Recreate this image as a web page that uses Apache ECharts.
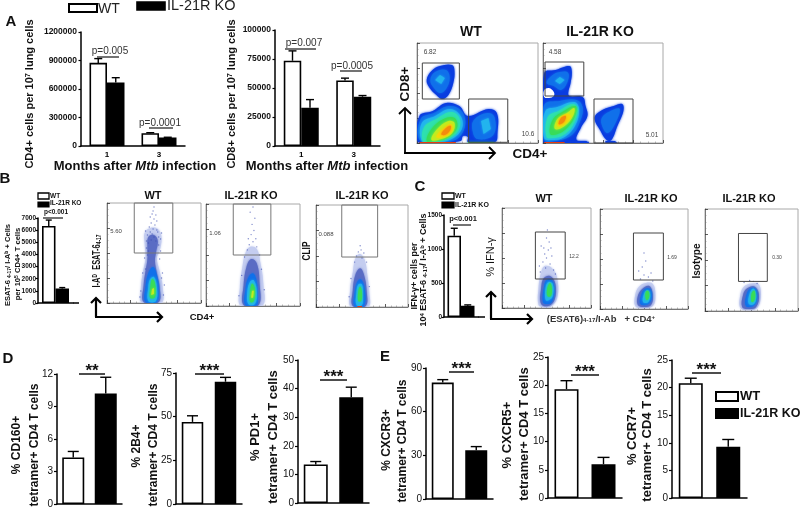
<!DOCTYPE html>
<html><head><meta charset="utf-8">
<script src="https://cdn.jsdelivr.net/npm/echarts@6/dist/echarts.min.js"></script>
<style>html,body{margin:0;padding:0;background:#fff}#c{width:800px;height:510px;filter:blur(0.35px)}</style>
</head><body><div id="c"></div>
<script>
// ---------- bar data ----------
const monthCats=['1','3'];
const a1Ticks=[0,300000,600000,900000,1200000];
const a1WT=[875000,135000], a1KO=[668000,90000], a1WTErr=[920000,140000], a1KOErr=[719000,92000];
const a2Ticks=[0,25000,50000,75000,100000];
const a2WT=[73500,56500], a2KO=[33000,42500], a2WTErr=[82000,58500], a2KOErr=[40000,43500];
const bTicks=[0,1000,2000,3000,4000,5000,6000,7000];
const bWT=[6350], bKO=[1200], bWTErr=[6830], bKOErr=[1270];
const cTicks=[0,500,1000,1500];
const cWT=[1195], cKO=[166], cWTErr=[1305], cKOErr=[178];
const groupCats=['WT','IL-21R KO'];
const cd160Ticks=[0,3,6,9,12], cd160=[4.3,10.2], cd160Err=[4.85,11.7];
const b2b4Ticks=[0,25,50,75], b2b4=[47,70], b2b4Err=[50.5,72.5];
const pd1Ticks=[0,10,20,30,40,50], pd1=[13.5,37], pd1Err=[14.5,40.5];
const cxcr3Ticks=[0,30,60,90], cxcr3=[80,33.5], cxcr3Err=[82,36];
const cxcr5Ticks=[0,5,10,15,20,25], cxcr5=[19.3,6], cxcr5Err=[20.8,7.2];
const ccr7Ticks=[0,5,10,15,20,25], ccr7=[20.8,9.3], ccr7Err=[21.7,10.6];

// ---------- flow data: [density level, outline] in % of each axis ----------
const levelColors=['#ffffff','#0a3ce0','#1070ea','#22b4ee','#2ee0b0','#38dc58','#c0ec20','#f4d80a','#f58a0c','#e83a10','#c4cdf0','#5a6cc4'];
const flowAWT=[
 [1,[[8,63],[12,72],[19,77],[29,78],[31,72],[30,60],[26,48],[21,44],[16,48],[10.5,55]]],
 [2,[[11,63],[15,71],[24,73],[27,65],[24,54],[19,50],[14,55]]],
 [3,[[15,63],[19,68],[23,65],[20,59]]],
 [1,[[2,0],[2,27],[13,32],[24,40],[35,37],[42,27],[59,34],[66,30],[66.5,10],[64.5,1],[42,1],[42,6],[38,7],[36,2]]],
 [2,[[47,23],[58,30],[64,26],[63,8],[50,4],[46,12]]],
 [3,[[53,22],[59,25],[61,14],[55,9]]],
 [2,[[3,2],[3,24],[14,30],[26,37],[36,33],[40,20],[35,6],[25,1]]],
 [3,[[4,2],[4,20],[15,27],[27,34],[36,27],[37,14],[27,3],[12,1]]],
 [4,[[5,2],[6,16],[16,24],[28,31],[35,25],[34,12],[25,4],[12,1]]],
 [5,[[8,2],[12,14],[22,24],[31,25],[33,15],[25,5],[14,2]]],
 [6,[[12,3],[16,13],[26,22],[31,20],[29,10],[20,4]]],
 [7,[[16,6],[22,15],[28,19],[29,12],[22,6]]],
 [8,[[20,9],[25,16],[28,17],[27,12],[23,8]]],
 [9,[[2,0],[2,1],[32,1],[32,0]]],
 [5,[[42,0],[42,1],[64,1],[64,0]]]
];
const flowAKO=[
 [1,[[1,0],[1,70],[10.5,73],[22,77],[24,72],[23,60],[21,50],[22,47],[33,46],[35.5,37],[37,27],[31.5,15],[28,3],[38,1],[38,0]]],
 [0,[[1,53],[5,55],[9,51],[9,47],[5,45],[1,46]]],
 [2,[[3,60],[7,67],[14,71],[21,70],[20,60],[15,53],[9,57]]],
 [3,[[10,62],[14,66],[18,63],[14,59]]],
 [2,[[1,3],[1,38],[14,42],[28,43],[33,36],[31,22],[24,8],[10,2]]],
 [3,[[1,5],[2,32],[12,36],[26,41],[30,34],[27,18],[18,6],[8,3]]],
 [4,[[3,6],[4,26],[13,32],[25,39],[29,33],[25,18],[17,8],[8,5]]],
 [5,[[6,9],[8,23],[16,31],[27,37],[27,28],[20,15],[12,9]]],
 [6,[[10,14],[12,24],[20,30],[26,35],[25,27],[18,17]]],
 [7,[[12,17],[15,26],[21,29],[23,26],[17,18]]],
 [8,[[13,19],[15,25],[19,27],[18,22],[15,19]]],
 [1,[[43,25],[48,32],[59,37],[66,39],[67,32],[62,17],[57,3],[53,3],[48,12]]],
 [2,[[49,25],[58,33],[64,34],[60,19],[54,10],[50,15]]],
 [1,[[52,0],[52,2],[60,2],[62,0]]],
 [1,[[26,0],[26,2],[36,2],[38,0]]],
 [9,[[1,0],[1,1],[18,1],[18,0]]]
];
const gatesAWT=[[4.4,44,35,80],[42.7,0.7,75,44]];
const gatesAKO=[[1.7,47,34,81],[42.5,0,75,44]];
const flowBWT=[
 [10,[[37,0],[36,15],[38,30],[41,45],[40,60],[40,70],[46,75],[54,74],[58,66],[56,52],[53,45],[56,32],[59,18],[58,0]]],
 [11,[[39,1],[39,18],[41,32],[43,44],[43,56],[44,66],[50,68],[54,62],[52,50],[51,42],[53,30],[56,16],[55,1]]],
 [2,[[41,1],[41,16],[44,30],[49,36],[53,28],[55,14],[53,1]]],
 [3,[[44,2],[44,16],[46,24],[50,26],[53,16],[52,2]]],
 [5,[[46,5],[46,14],[48,24],[51,20],[51,6]]],
 [6,[[47,8],[48,14],[50,15],[50,9]]]
];
const flowBKO1=[
 [10,[[37,0],[36,18],[39,40],[42,52],[47,58],[54,56],[58,42],[61,22],[60,0]]],
 [11,[[40,1],[40,20],[43,38],[48,46],[54,42],[57,22],[56,1]]],
 [2,[[42,1],[42,16],[45,28],[50,32],[54,24],[55,10],[54,1]]],
 [3,[[45,2],[44,14],[47,24],[51,25],[54,14],[52,2]]],
 [5,[[47,4],[47,14],[49,22],[52,17],[51,5]]],
 [6,[[48,8],[49,15],[51,15],[50,8]]]
];
const flowBKO2=[
 [10,[[38,0],[37,16],[40,34],[43,48],[48,52],[53,46],[56,30],[58,14],[57,0]]],
 [11,[[40,1],[40,16],[43,32],[48,38],[52,32],[55,16],[54,1]]],
 [2,[[42,1],[42,14],[45,25],[49,27],[53,18],[52,1]]],
 [3,[[44,2],[44,14],[46,22],[50,22],[51,10],[50,2]]],
 [5,[[46,6],[46,15],[48,20],[50,14],[49,6]]],
 [9,[[45,0],[45,1],[50,1],[50,0]]]
];
const gatesBWT=[[29,50,70,100]], gatesBKO1=[[29,50,69,100]], gatesBKO2=[[28,49,67,100]];
const flowCWT=[
 [10,[[41,3],[41,20],[44,36],[48,42],[56,40],[62,30],[62,10],[54,1],[46,1]]],
 [11,[[44,4],[44,20],[47,30],[54,32],[60,24],[59,8],[52,2]]],
 [2,[[46,6],[47,20],[50,28],[56,28],[59,18],[56,6],[50,4]]],
 [3,[[49,8],[49,20],[52,26],[57,24],[57,12],[53,8]]],
 [5,[[51,12],[51,20],[54,25],[56,20],[55,12]]]
];
const flowCKO1=[
 [10,[[40,3],[40,14],[44,22],[52,26],[60,25],[63,14],[60,3],[48,1]]],
 [11,[[43,4],[43,13],[48,20],[56,23],[60,14],[58,4],[50,2]]],
 [2,[[46,5],[47,14],[51,20],[57,20],[59,12],[55,5]]],
 [3,[[49,7],[50,15],[54,19],[57,15],[55,7]]],
 [5,[[52,10],[52,17],[55,18],[56,13],[54,9]]]
];
const flowCKO2=[
 [10,[[38,3],[38,16],[42,24],[50,27],[58,26],[60,14],[56,3],[46,1]]],
 [11,[[40,4],[41,16],[45,22],[53,24],[58,16],[55,4],[47,2]]],
 [2,[[44,5],[45,17],[49,22],[55,21],[56,11],[52,5]]],
 [3,[[47,7],[48,17],[52,22],[55,16],[53,7]]],
 [5,[[50,9],[50,17],[53,20],[54,14],[52,9]]]
];
const gatesCWT=[[37.5,29,71,76]], gatesCKO1=[[38,29,72,76]], gatesCKO2=[[36,29,67,76]];
const dotsBWT=[[44,60],[47,63],[50,66],[52,62],[55,58],[42,55],[46,71],[49,74],[53,73],[51,78],[47,80],[50,84],[52,88],[49,92],[46,86],[53,82],[43,68],[57,52],[40,45],[38,30],[59,30],[61,18],[36,12],[48,69],[45,76],[55,66],[44,52],[56,44],[41,34],[58,25],[50,96],[48,89],[42,62],[57,64],[58,70],[41,72],[54,71],[43,48],[35,6],[60,8]];
const dotsBKO1=[[46,60],[50,63],[53,66],[48,70],[51,74],[49,80],[52,86],[47,92],[50,97],[44,55],[57,50],[41,48],[59,36],[38,30],[62,16],[35,10],[54,58],[45,66]];
const dotsBKO2=[[46,54],[49,56],[52,53],[44,50],[55,44],[38,28],[58,20],[36,10],[48,60],[50,48],[42,44]];
const dotsCWT=[[46,46],[50,50],[54,44],[48,54],[52,58],[44,62],[56,52],[50,70],[58,38],[42,42],[47,60],[53,66],[60,34],[43,36],[55,60],[49,40],[51,78]];
const dotsCKO1=[[46,30],[50,34],[55,32],[48,42],[52,48],[58,36],[44,38],[50,56],[60,28]];
const dotsCKO2=[[42,28],[48,30],[52,29],[56,27]];

// ---------- labels ----------
const flowTitles=['WT','IL-21R KO','Isotype'];
const legendNames=['WT','IL-21R KO'];
const pValuesA=['p=0.005','p=0.0001','p=0.007','p=0.0005'];
const percentA=['6.82','10.6','4.58','5.01'];
const percentB=['5.60','1.06','0.088'];
const percentC=['12.2','1.69','0.30'];

const FF='"Liberation Sans",Arial,sans-serif';
const grids=[],xAxes=[],yAxes=[],series=[],graphic=[];

function errSeries(i,cats,vals,errs,off,cap,z){
 series.push({type:'custom',xAxisIndex:i,yAxisIndex:i,z:z||3,silent:true,
  data:errs.map((e,k)=>[k,vals[k],e]),
  renderItem:(p,api)=>{
   const a=api.coord([api.value(0),api.value(1)]),b=api.coord([api.value(0),api.value(2)]);
   const x=a[0]+off;
   return {type:'group',children:[
    {type:'line',shape:{x1:x,y1:a[1],x2:x,y2:b[1]},style:{stroke:'#000',lineWidth:1.4}},
    {type:'line',shape:{x1:x-cap,y1:b[1],x2:x+cap,y2:b[1]},style:{stroke:'#000',lineWidth:1.4}}]};
  }});
}
function axesFor(g,cats,ticks,fs,bold,showCat,tickLen,margin){
 const i=grids.length;
 grids.push({left:g[0],top:g[1],width:g[2]-g[0],height:g[3]-g[1]});
 xAxes.push({gridIndex:i,type:'category',data:cats,axisTick:{show:false},
  axisLine:{lineStyle:{color:'#000',width:1.5}},
  axisLabel:{show:!!showCat,fontFamily:FF,fontSize:8,fontWeight:'bold',color:'#000',margin:5}});
 yAxes.push({gridIndex:i,type:'value',min:ticks[0],max:ticks[ticks.length-1],interval:ticks[1]-ticks[0],
  splitLine:{show:false},axisLine:{show:true,lineStyle:{color:'#000',width:1.5}},
  axisTick:{show:true,length:tickLen||3,lineStyle:{color:'#000',width:1.2}},
  axisLabel:{fontFamily:FF,fontSize:fs,fontWeight:bold?'bold':'normal',color:'#111',margin:margin||4,formatter:v=>String(v)}});
 return i;
}
function groupedBars(g,cats,ticks,wt,ko,wtE,koE,bw,cap,fs,showCat,margin){
 const i=axesFor(g,cats,ticks,fs,true,showCat,2.5,margin);
 series.push({name:'WT',type:'bar',xAxisIndex:i,yAxisIndex:i,data:wt,barWidth:bw,barGap:0,
  itemStyle:{color:'#fff',borderColor:'#000',borderWidth:1.6}});
 series.push({name:'IL-21R KO',type:'bar',xAxisIndex:i,yAxisIndex:i,data:ko,barWidth:bw,barGap:0,
  itemStyle:{color:'#000',borderColor:'#000',borderWidth:1.6}});
 errSeries(i,cats,wt,wtE,-bw/2,cap,1);
 errSeries(i,cats,ko,koE,bw/2,cap,1);
}
function pairBars(g,ticks,vals,errs,bw,cap){
 const i=axesFor(g,groupCats,ticks,10,false,false,3,4);
 series.push({type:'bar',xAxisIndex:i,yAxisIndex:i,barWidth:bw,
  data:[{value:vals[0],itemStyle:{color:'#fff',borderColor:'#000',borderWidth:1.6}},
        {value:vals[1],itemStyle:{color:'#000',borderColor:'#000',borderWidth:1.6}}]});
 errSeries(i,groupCats,vals,errs,0,cap,1);
}
function flow(g,contours,gates,dots,gateColor,lw){
 const i=grids.length;
 grids.push({left:g[0],top:g[1],width:g[2]-g[0],height:g[3]-g[1],show:true,borderColor:'#a8a8a8',borderWidth:1,backgroundColor:'#fff'});
 const ax=()=>({gridIndex:i,type:'value',min:0,max:100,interval:25,splitLine:{show:false},
  axisLabel:{show:false},axisLine:{show:true,lineStyle:{color:'#777',width:1}},
  axisTick:{show:true,inside:true,length:3,lineStyle:{color:'#333',width:0.8}},
  minorTick:{show:true,splitNumber:4,length:1.5,lineStyle:{color:'#777',width:0.5}}});
 xAxes.push(ax());yAxes.push(ax());
 series.push({type:'custom',xAxisIndex:i,yAxisIndex:i,z:2,silent:true,clip:true,
  data:contours.map((c,k)=>[c[1][0][0],c[1][0][1],k]),
  renderItem:(p,api)=>{
   const c=contours[api.value(2)],col=levelColors[c[0]];
   return {type:'polygon',shape:{points:c[1].map(q=>api.coord(q)),smooth:c[1].length>4?0.4:0},
    style:{fill:col,shadowBlur:c[0]===0||c[0]===9?0:2.5,shadowColor:col}};
  }});
 if(dots&&dots.length) series.push({type:'scatter',xAxisIndex:i,yAxisIndex:i,z:3,silent:true,data:dots,symbolSize:1.4,itemStyle:{color:'#3a4cb0',opacity:0.65}});
 series.push({type:'custom',xAxisIndex:i,yAxisIndex:i,z:4,silent:true,clip:false,
  data:gates.map(r=>[r[0],r[1],r[2],r[3]]),
  renderItem:(p,api)=>{
   const a=api.coord([api.value(0),api.value(3)]),b=api.coord([api.value(2),api.value(1)]);
   return {type:'rect',shape:{x:a[0],y:a[1],width:b[0]-a[0],height:b[1]-a[1]},style:{fill:'none',stroke:gateColor,lineWidth:lw}};
  }});
}
function T(t,x,y,fs,o){o=o||{};
 const e={type:'text',x:x,y:y,z:20,silent:true,rotation:o.rot?Math.PI/2:0,scaleX:o.sx||1,
  style:{text:t,fontFamily:FF,fontSize:fs,fontWeight:o.w||'bold',fill:o.c||'#111',align:o.a||'center',verticalAlign:'middle'}};
 if(o.rich) e.style.rich=o.rich;
 graphic.push(e);
}
function L(x1,y1,x2,y2,w,c){graphic.push({type:'line',z:20,silent:true,shape:{x1,y1,x2,y2},style:{stroke:c||'#000',lineWidth:w||1.2}});}
function R(x,y,w,h,black,lw){graphic.push({type:'rect',z:20,silent:true,shape:{x,y,width:w,height:h},style:{fill:black?'#000':'#fff',stroke:'#000',lineWidth:lw||1.6}});}
function arrows(x,y,top,right,w,head){
 L(x,y,x,top,w);L(x-1,y,right,y,w);
 graphic.push({type:'polyline',z:20,silent:true,shape:{points:[[x-head,top+head],[x,top],[x+head,top+head]]},style:{stroke:'#000',lineWidth:w,fill:'none'}});
 graphic.push({type:'polyline',z:20,silent:true,shape:{points:[[right-head,y-head],[right,y],[right-head,y+head]]},style:{stroke:'#000',lineWidth:w,fill:'none'}});
}
const supRich=(fs,c)=>({s:{fontSize:fs*0.65,fontFamily:FF,fontWeight:'bold',fill:c||'#111',verticalAlign:'top',lineHeight:fs},
  d:{fontSize:fs*0.65,fontFamily:FF,fontWeight:'bold',fill:c||'#111',verticalAlign:'bottom',lineHeight:fs},
  n:{fontSize:fs,fontFamily:FF,fontWeight:'bold',fill:c||'#111',lineHeight:fs},
  i:{fontSize:fs,fontFamily:FF,fontWeight:'bold',fontStyle:'italic',fill:c||'#111',lineHeight:fs}});

// ---------- Panel A ----------
groupedBars([81,32,185,146],monthCats,a1Ticks,a1WT,a1KO,a1WTErr,a1KOErr,17.5,4,8.5,true);
groupedBars([275,30,380,146],monthCats,a2Ticks,a2WT,a2KO,a2WTErr,a2KOErr,17.5,4,8.5,true);
flow([417,43,538,143],flowAWT,gatesAWT,[], '#444',1);
flow([543,43,663,143],flowAKO,gatesAKO,[], '#444',1);
T('A',11,22,15);
R(69,4,28,8,false,2);T(legendNames[0],98,9,14,{a:'left',w:'normal',c:'#222'});
R(137,2,28,8,true);T(legendNames[1],167,6,14.5,{a:'left',w:'normal',c:'#222'});
T('{n|CD4+ cells per 10}{s|7}{n| lung cells}',30,94,11,{rot:1,rich:supRich(11)});
T('{n|CD8+ cells per 10}{s|7}{n| lung cells}',232,94,11,{rot:1,rich:supRich(11)});
T('{n|Months after }{i|Mtb}{n| infection}',135,166,13,{rich:supRich(13)});
T('{n|Months after }{i|Mtb}{n| infection}',327,166,13,{rich:supRich(13)});
T(pValuesA[0],110,51,10,{w:'normal',c:'#333'});L(97,57,119,57,1.1);
T(pValuesA[1],160,123,10,{w:'normal',c:'#333'});L(149,128,173,128,1.1);
T(pValuesA[2],304,43,10,{w:'normal',c:'#333'});L(285,49,316,49,1.1);
T(pValuesA[3],352,66,10,{w:'normal',c:'#333'});L(340,71,362,71,1.1);
T(flowTitles[0],471,32,14);T(flowTitles[1],600,32,14);
arrows(405,153,108,495,1.8,6);
T('CD8+',405,84,13.5,{rot:1});T('CD4+',530,154,13.5);
T(percentA[0],430,52,6.5,{w:'normal',c:'#444'});T(percentA[1],528,134,6.5,{w:'normal',c:'#444'});
T(percentA[2],555,52,6.5,{w:'normal',c:'#444'});T(percentA[3],652,135,6.5,{w:'normal',c:'#444'});

// ---------- Panel B ----------
groupedBars([38,218,73,303],['WT'],bTicks,bWT,bKO,bWTErr,bKOErr,13.5,3,6.5,false,2);
L(73,303,79,303,1.5);
flow([107,203,201,303],flowBWT,gatesBWT,dotsBWT,'#777',1);
flow([206,204,300,306],flowBKO1,gatesBKO1,dotsBKO1,'#777',1);
flow([316,205,408,307],flowBKO2,gatesBKO2,dotsBKO2,'#777',1);
T('B',5,179,15);
R(38,193,11,6,false,1.3);T(legendNames[0],50,196,6.5,{a:'left'});
R(38,202,11,5,true,1.2);T(legendNames[1],50,203.5,6.5,{a:'left'});
T('p<0.001',56,212,6.5);L(43,218,63,218,1.1);
T('{n|ESAT-6 }{d|4-17}{n|/ I-A}{s|b}{n| + Cells}',8,265,7.6,{rot:1,rich:supRich(7.6)});
T('{n|per 10}{s|5}{n| CD4+ T cells}',18,264,7.6,{rot:1,rich:supRich(7.6)});
T(flowTitles[0],153,196,11);T(flowTitles[1],251,196,11);T(flowTitles[1],362,196,11);
T('{n|I-A}{s|D}{n|  ESAT-6}{d|4-17}',97,261,11,{rot:1,rich:supRich(11),sx:0.68});
T('CLIP',307,251,11,{rot:1,sx:0.75});
arrows(96,317,298,162,2.2,5);
T('CD4+',202,317,9.5);
T(percentB[0],116,231,6,{w:'normal',c:'#444'});T(percentB[1],215,233,6,{w:'normal',c:'#444'});T(percentB[2],326,234,6,{w:'normal',c:'#444'});

// ---------- Panel C ----------
groupedBars([444,215,478,317],['WT'],cTicks,cWT,cKO,cWTErr,cKOErr,13.5,3.5,6.5,false,2);
L(478,317,485,317,1.5);
flow([502,208,591,308],flowCWT,gatesCWT,dotsCWT,'#444',1);
flow([600,209,688,309],flowCKO1,gatesCKO1,dotsCKO1,'#444',1);
flow([705,209,798,311],flowCKO2,gatesCKO2,dotsCKO2,'#444',1);
T('C',420,187,15);
R(442,193,12,6,false,1.3);T(legendNames[0],455,196,7,{a:'left'});
R(442,202,12,6,true,1.2);T(legendNames[1],455,205,7,{a:'left'});
T('p<0.001',463,219,7.5);L(453,225,471,225,1.1);
T('IFN-γ+ cells per',415,276,9,{rot:1});
T('{n|10}{s|4}{n| ESAT-6 }{d|4-17}{n|/ I-A}{s|b}{n| + Cells}',424,270,9,{rot:1,rich:supRich(9)});
T(flowTitles[0],544,199,11);T(flowTitles[1],651,199,11);T(flowTitles[1],749,199,11);
arrows(491,319,292,532,2.2,5);
T('% IFN-γ',491,257,11,{rot:1,w:'normal'});T(flowTitles[2],697,261,10,{rot:1});
T('{n|(ESAT6)}{d|4-17}{n|/I-Ab   + CD4}{s|+}',601,319,9.5,{rich:supRich(9.5,'#333')});
T(percentC[0],574,257,5,{w:'normal',c:'#444'});T(percentC[1],672,258,5,{w:'normal',c:'#444'});T(percentC[2],777,258,5,{w:'normal',c:'#444'});

// ---------- Panels D & E ----------
pairBars([57,374,122,504],cd160Ticks,cd160,cd160Err,22,5.5);
pairBars([176,373,242,504],b2b4Ticks,b2b4,b2b4Err,21.5,5.5);
pairBars([298,360,369,503],pd1Ticks,pd1,pd1Err,24,5.5);
pairBars([426,368,493,499],cxcr3Ticks,cxcr3,cxcr3Err,22,5.5);
pairBars([548,357,622,498],cxcr5Ticks,cxcr5,cxcr5Err,24,6);
pairBars([672,360,747,498],ccr7Ticks,ccr7,ccr7Err,24,6);
T('D',8,359,15);T('E',385,357,15);
const sig=(x1,x2,y,s)=>{L(x1,y,x2,y,1.4);T(s,(x1+x2)/2,y-3,17,{w:'bold',c:'#111'});};
sig(79,105,374,'**');sig(195,224,374,'***');sig(320,347,380,'***');
sig(449,474,372,'***');sig(571,599,375,'***');sig(692,721,373,'***');
const TM='tetramer+ CD4 T cells';
T('% CD160+',17,445,12,{rot:1});T(TM,35,445,12,{rot:1});
T('% 2B4+',137,446,12,{rot:1});T(TM,154,445,12,{rot:1});
T('% PD1+',255,437,13,{rot:1});T(TM,273,437,13,{rot:1});
T('% CXCR3+',387,440,12,{rot:1});T(TM,403,441,12,{rot:1});
T('% CXCR5+',507,435,13,{rot:1});T(TM,524,434,13,{rot:1});
T('% CCR7+',632,436,13,{rot:1});T(TM,647,435,13,{rot:1});
R(716,392,22,9,false,2);T(legendNames[0],740,396,13,{a:'left'});
R(716,409,22,9,true,2);T(legendNames[1],740,414,12.5,{a:'left'});

const chart=echarts.init(document.getElementById('c'));
chart.setOption({animation:false,backgroundColor:'#fff',grid:grids,xAxis:xAxes,yAxis:yAxes,series:series,graphic:{elements:graphic}});
</script></body></html>
